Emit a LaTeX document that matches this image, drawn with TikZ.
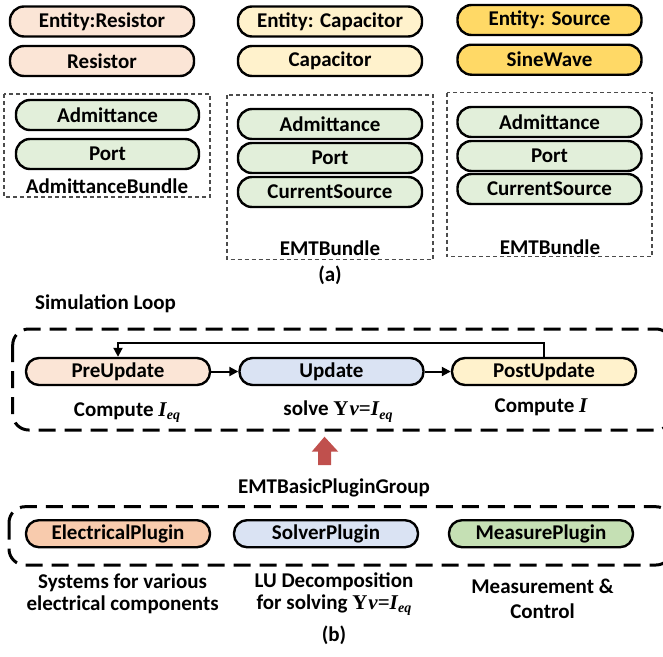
\documentclass[tikz,border=0pt]{standalone}
\usepackage{fontspec}
\setmainfont{Carlito}
\newfontfamily\tms{Liberation Serif}
\usetikzlibrary{arrows.meta}
\definecolor{peach}{HTML}{FBE5D6}
\definecolor{cream}{HTML}{FFF2CC}
\definecolor{gold}{HTML}{FFD966}
\definecolor{lgreen}{HTML}{E2EFDA}
\definecolor{lblue}{HTML}{DAE3F3}
\definecolor{dpeach}{HTML}{F8CBAD}
\definecolor{mgreen}{HTML}{C5E0B4}
\definecolor{redarrow}{HTML}{C0504D}
\newcommand\myIeq{{\tms\bfseries\itshape I\kern0.3pt\raisebox{-0.35ex}{\fontsize{14}{14}\selectfont eq}}}
\newcommand\myYv{{\tms\bfseries Y\kern1pt\itshape v\upshape =}\myIeq}
\begin{document}
\begin{tikzpicture}[x=1pt,y=-1pt,
  font=\fontsize{21}{22}\selectfont\bfseries,
  pill/.style={draw, line width=2.4pt, rounded corners=14pt, minimum width=184pt,
    minimum height=30pt, inner sep=0pt},
  lpill/.style={pill, minimum height=27pt, rounded corners=13pt},
  bundlebox/.style={draw=black!70, line width=1.2pt, dash pattern=on 4pt off 3pt},
  groupbox/.style={draw, line width=3pt, dash pattern=on 17pt off 9pt, rounded corners=16pt},
  arr/.style={line width=2pt, -{Triangle[length=9pt,width=9pt]}},
  lbl/.style={inner sep=0pt, align=center}]
\useasboundingbox (0,0) rectangle (663,656);

% ---------- (a) ----------
\node[pill, fill=peach] (er) at (102,21.5) {Entity:Resistor};
\node[pill, fill=peach] (r) at (102,61) {Resistor};
\node[pill, fill=cream] (ec) at (330,21.5) {Entity: Capacitor};
\node[pill, fill=cream] (c) at (330,61) {Capacitor};
\node[pill, fill=gold] (es) at (549.5,20) {Entity: Source};
\node[pill, fill=gold] (sw) at (549.5,59.7) {SineWave};

\draw[bundlebox] (4,94) rectangle (210,197);
\node[pill, fill=lgreen, minimum width=183pt] (a1) at (107.5,115) {Admittance};
\node[pill, fill=lgreen, minimum width=183pt] (p1) at (107.5,154) {Port};
\node[lbl] (b1) at (107,186.7) {AdmittanceBundle};

\draw[bundlebox] (227,95) rectangle (433,259.3);
\node[pill, fill=lgreen] (a2) at (330,124) {Admittance};
\node[pill, fill=lgreen] (p2) at (330,158) {Port};
\node[pill, fill=lgreen] (cs2) at (330,192) {CurrentSource};
\node[lbl] (b2) at (330,248) {EMTBundle};

\draw[bundlebox] (447,92.7) rectangle (652,256.7);
\node[pill, fill=lgreen] (a3) at (549.5,122) {Admittance};
\node[pill, fill=lgreen] (p3) at (549.5,156) {Port};
\node[pill, fill=lgreen] (cs3) at (549.5,189) {CurrentSource};
\node[lbl] (b3) at (550,247) {EMTBundle};

\node[lbl] (capa) at (330,275) {(a)};

% ---------- (b) ----------
\node[lbl] (simloop) at (105.5,304) {Simulation Loop};
\draw[groupbox] (12.7,329) rectangle (672,430);
\node[lpill, fill=peach] (pre) at (118,371.5) {PreUpdate};
\node[lpill, fill=lblue] (upd) at (331.5,371.5) {Update};
\node[lpill, fill=cream] (post) at (544,371.5) {PostUpdate};
\draw[arr] (pre) -- (upd);
\draw[arr] (upd) -- (post);
\draw[arr] (post.north) -- ++(0,-14) -| (pre.north);

\node[lbl] (t1) at (127,412.7) {Compute \myIeq};
\node[lbl] (t2) at (338,411.7) {solve \myYv};
\node[lbl] (t3) at (541,407.7) {Compute {\tms\bfseries\itshape I}};

\fill[redarrow] (318,465) -- (331,465) -- (331,451.7) -- (338.3,451.7) -- (324.5,436.7)
  -- (311.7,451.7) -- (318,451.7) -- cycle;

\node[lbl] (grp) at (334,488) {EMTBasicPluginGroup};
\draw[groupbox] (9,506.7) rectangle (672,565);
\node[lpill, fill=dpeach] (ep) at (118,533.7) {ElectricalPlugin};
\node[lpill, fill=lblue] (sp) at (326,533.7) {SolverPlugin};
\node[lpill, fill=mgreen] (mp) at (541,533.7) {MeasurePlugin};

\node[lbl] (d1) at (122.6,594) {Systems for various\\electrical components};
\node[lbl] (d2) at (334,594) {LU Decomposition\\for solving \myYv};
\node[lbl, font=\fontsize{21}{25}\selectfont\bfseries] (d3) at (542.5,599) {Measurement \&\\Control};
\node[lbl] (capb) at (334,635) {(b)};
\end{tikzpicture}
\end{document}
